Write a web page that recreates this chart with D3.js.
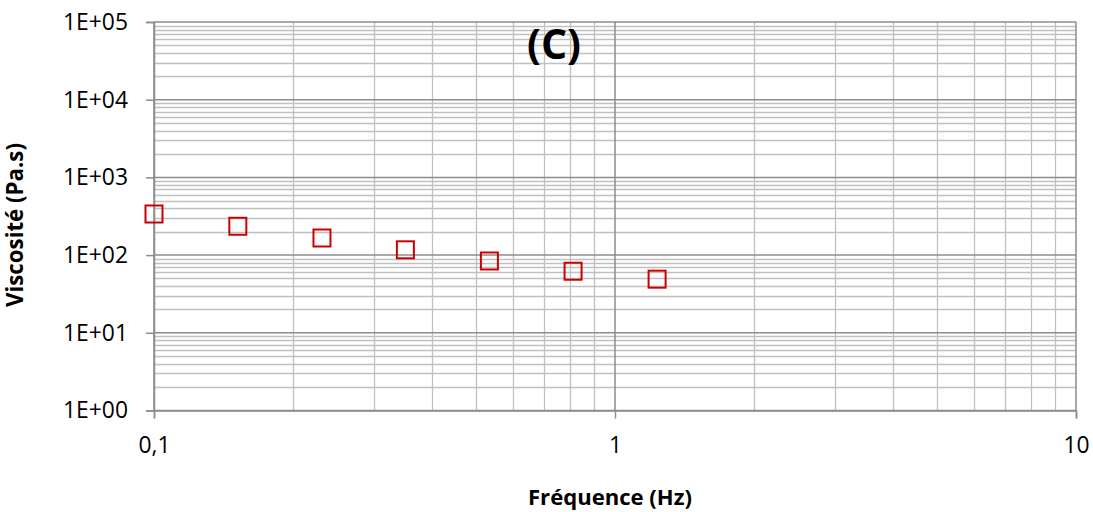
<!DOCTYPE html>
<html><head><meta charset="utf-8">
<script src="https://cdn.jsdelivr.net/npm/d3@7"></script>
<style>
body{margin:0;background:#fff;}
svg text{font-family:"Open Sans",Lato,sans-serif;fill:#000;}
</style></head>
<body>
<svg id="chart" width="1093" height="512"></svg>
<script>
const frequency = [0.1, 0.152, 0.2314, 0.351, 0.534, 0.811, 1.234];
const viscosity = [338, 235, 166, 117, 84, 62, 49];
const yTickLabels = ["1E+00","1E+01","1E+02","1E+03","1E+04","1E+05"];
const yTickValues = [1,10,100,1000,10000,100000];
const xTickValues = [0.1,1,10];
const xTickLabels = ["0,1","1","10"];
const title = "(C)";
const xTitle = "Fréquence (Hz)";
const yTitle = "Viscosité (Pa.s)";

const svg = d3.select("#chart");
const L=154, R=1076, T=22, B=410.5;
const x = d3.scaleLog().domain([0.1,10]).range([L,R]);
const y = d3.scaleLog().domain([1,100000]).range([B,T]);

function fit(sel, target){
  const w = sel.node().getComputedTextLength();
  const fs = parseFloat(sel.attr("font-size"));
  sel.attr("font-size", (fs*target/w).toFixed(2));
}

const g = svg.append("g");
const minorX=[], minorY=[];
for (let d=0.1; d<10; d*=10) for (let k=2;k<=9;k++) minorX.push(+(d*k).toPrecision(3));
for (let d=1; d<100000; d*=10) for (let k=2;k<=9;k++) minorY.push(d*k);
g.selectAll(".mx").data(minorX).join("line")
 .attr("x1",d=>Math.round(x(d))+0.5).attr("x2",d=>Math.round(x(d))+0.5).attr("y1",T).attr("y2",B)
 .attr("stroke","#c0c0c0").attr("stroke-width",1.3);
g.selectAll(".my").data(minorY).join("line")
 .attr("y1",d=>Math.round(y(d))+0.5).attr("y2",d=>Math.round(y(d))+0.5).attr("x1",L).attr("x2",R)
 .attr("stroke","#c0c0c0").attr("stroke-width",1.3);
g.selectAll(".Mx").data(xTickValues).join("line")
 .attr("x1",d=>x(d)).attr("x2",d=>x(d)).attr("y1",T).attr("y2",B)
 .attr("stroke","#8c8c8c").attr("stroke-width",1.5);
g.selectAll(".My").data(yTickValues).join("line")
 .attr("y1",d=>y(d)).attr("y2",d=>y(d)).attr("x1",L).attr("x2",R)
 .attr("stroke","#8c8c8c").attr("stroke-width",1.5);

const yAxis = d3.axisLeft(y).tickValues(yTickValues).tickFormat((d,i)=>yTickLabels[i]).tickSize(8).tickPadding(18);
const ay = svg.append("g").attr("transform",`translate(${L},0)`).call(yAxis);
const xAxis = d3.axisBottom(x).tickValues(xTickValues).tickFormat((d,i)=>xTickLabels[i]).tickSize(8).tickPadding(18);
const ax = svg.append("g").attr("transform",`translate(0,${B})`).call(xAxis);
[ax,ay].forEach(a=>{
  a.select(".domain").attr("stroke","#8c8c8c").attr("stroke-width",1.5);
  a.selectAll(".tick line").attr("stroke","#8c8c8c").attr("stroke-width",1.5);
  a.selectAll("text").attr("font-family","'Open Sans', sans-serif").attr("font-size",20).attr("fill","#000");
});
// size tick labels so "1E+05" is ~65px wide
const probe = ay.selectAll(".tick text").filter((d,i)=>i===5);
const w0 = probe.node().getComputedTextLength();
const tfs = 20*65/w0;
ax.selectAll("text").attr("font-size",tfs);
ay.selectAll("text").attr("font-size",tfs);

const s=17;
svg.append("g").selectAll("rect").data(frequency).join("rect")
 .attr("x",(d)=>x(d)-s/2).attr("y",(d,i)=>y(viscosity[i])-s/2)
 .attr("width",s).attr("height",s).attr("fill","none")
 .attr("stroke","#cc0000").attr("stroke-width",2);

const t1 = svg.append("text").attr("x",554).attr("y",59).attr("text-anchor","middle")
 .attr("font-size",40).attr("font-weight","bold").text(title);
fit(t1,54);
const t2 = svg.append("text").attr("x",610).attr("y",505).attr("text-anchor","middle")
 .attr("font-size",20).attr("font-weight","bold").text(xTitle);
fit(t2,164);
const t3 = svg.append("text").attr("transform","translate(23,225) rotate(-90)").attr("text-anchor","middle")
 .attr("font-size",20).attr("font-weight","bold").text(yTitle);
fit(t3,164);
</script>
</body></html>
